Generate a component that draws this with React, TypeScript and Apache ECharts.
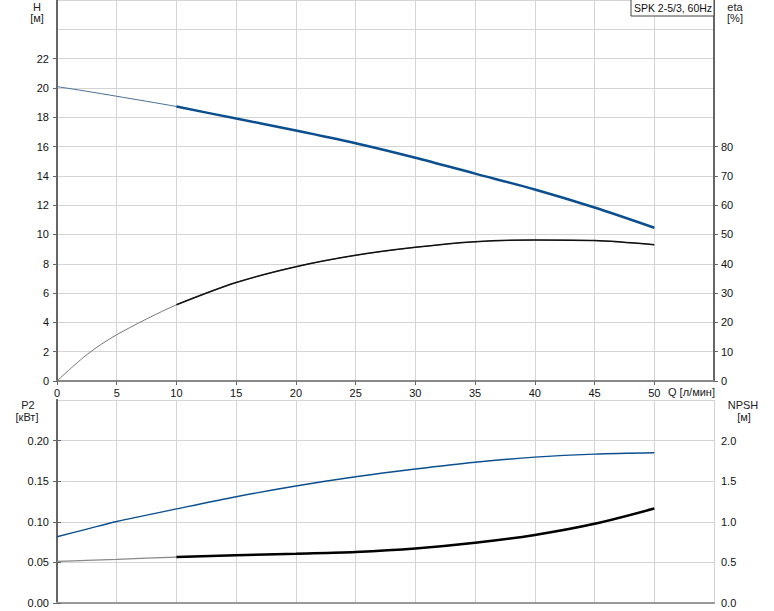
import React, { useEffect, useRef } from "react";
import * as echarts from "echarts";

const Q = [0, 2.5, 5, 10, 15, 20, 25, 30, 35, 40, 45, 50];
const H = [20.09, 19.77, 19.43, 18.73, 17.91, 17.1, 16.23, 15.24, 14.15, 13.07, 11.84, 10.46];
const ETA = [0, 9.0, 15.8, 26.0, 33.6, 39.0, 42.9, 45.6, 47.5, 48.1, 47.9, 46.5];
const P2 = [0.0816, 0.091, 0.1004, 0.1159, 0.1309, 0.1441, 0.1554, 0.165, 0.1734, 0.1796, 0.1834, 0.185];
const NPSH = [0.512, 0.525, 0.537, 0.566, 0.588, 0.608, 0.629, 0.671, 0.741, 0.838, 0.975, 1.163];

const X_TICKS = [0, 5, 10, 15, 20, 25, 30, 35, 40, 45, 50];
const H_TICKS = [0, 2, 4, 6, 8, 10, 12, 14, 16, 18, 20, 22];
const ETA_TICKS = [0, 10, 20, 30, 40, 50, 60, 70, 80];
const P2_TICKS = [0, 0.05, 0.1, 0.15, 0.2];
const NPSH_TICKS = [0, 0.5, 1, 1.5, 2];

const TITLE = "SPK 2-5/3, 60Hz";
const OP_START = 3; // index where operating range (thick line) begins

const FONT = "'Liberation Sans', Arial, sans-serif";
const BLUE = "#0b4f8f";

function pts(ys: number[], from: number, to: number) {
  const out: [number, number][] = [];
  for (let i = from; i <= to; i++) out.push([Q[i], ys[i]]);
  return out;
}

export default function App() {
  const ref = useRef<HTMLDivElement>(null);
  useEffect(() => {
    if (!ref.current) return;
    const chart = echarts.init(ref.current, null, { renderer: "svg" });
    const last = Q.length - 1;
    const lbl = { fontFamily: FONT, fontSize: 11, color: "#111" };
    const axLine = (c: string) => ({ show: true, lineStyle: { color: c, width: 2 } });
    const split = { show: true, lineStyle: { color: "#d4d4d4", width: 1 } };
    const line = (
      data: [number, number][],
      xi: number,
      yi: number,
      color: string,
      width: number,
      z = 5
    ) => ({
      type: "line",
      xAxisIndex: xi,
      yAxisIndex: yi,
      data,
      symbol: "none",
      smooth: 0.3,
      silent: true,
      lineStyle: { color, width },
      z,
    });
    const txt = (text: string, x: number, y: number, align = "center") => ({
      type: "text",
      x,
      y,
      style: { text, font: `11px ${FONT}`, fill: "#222", align, verticalAlign: "middle" },
    });
    chart.setOption({
      animation: false,
      grid: [
        { left: 57, right: 60, top: 0, height: 381 },
        { left: 57, right: 60, top: 400, height: 203 },
      ],
      xAxis: [
        {
          gridIndex: 0,
          type: "value",
          min: 0,
          max: 55,
          interval: 5,
          position: "bottom",
          axisLine: axLine("#888"),
          axisTick: { show: true, length: 4, customValues: X_TICKS, lineStyle: { color: "#666" } },
          axisLabel: { ...lbl, margin: 6, customValues: X_TICKS },
          splitLine: split,
        },
        {
          gridIndex: 1,
          type: "value",
          min: 0,
          max: 55,
          interval: 5,
          position: "bottom",
          axisLine: axLine("#bbb"),
          axisTick: { show: false },
          axisLabel: { show: false },
          splitLine: split,
        },
        {
          gridIndex: 1,
          type: "value",
          min: 0,
          max: 55,
          interval: 5,
          position: "top",
          axisLine: axLine("#999"),
          axisTick: { show: false },
          axisLabel: { show: false },
          splitLine: { show: false },
        },
      ],
      yAxis: [
        {
          gridIndex: 0,
          type: "value",
          min: 0,
          max: 26,
          interval: 2,
          position: "left",
          axisLine: axLine("#666"),
          axisTick: { show: true, length: 4, customValues: H_TICKS, lineStyle: { color: "#666" } },
          axisLabel: { ...lbl, margin: 8, customValues: H_TICKS },
          splitLine: { show: false },
        },
        {
          gridIndex: 0,
          type: "value",
          min: 0,
          max: 130,
          interval: 10,
          position: "right",
          axisLine: axLine("#666"),
          axisTick: { show: true, length: 4, customValues: ETA_TICKS, lineStyle: { color: "#666" } },
          axisLabel: { ...lbl, margin: 7, customValues: ETA_TICKS },
          splitLine: { show: false },
        },
        {
          gridIndex: 0,
          type: "value",
          min: 0,
          max: 26,
          interval: 2,
          position: "left",
          axisLine: { show: false },
          axisTick: { show: false },
          axisLabel: { show: false },
          splitLine: split,
        },
        {
          gridIndex: 1,
          type: "value",
          min: 0,
          max: 0.25,
          interval: 0.05,
          position: "left",
          axisLine: axLine("#666"),
          axisTick: { show: true, length: 4, customValues: P2_TICKS, lineStyle: { color: "#666" } },
          axisLabel: {
            ...lbl,
            margin: 8,
            customValues: P2_TICKS,
            formatter: (v: number) => v.toFixed(2),
          },
          splitLine: { show: false },
        },
        {
          gridIndex: 1,
          type: "value",
          min: 0,
          max: 2.5,
          interval: 0.5,
          position: "right",
          axisLine: axLine("#666"),
          axisTick: { show: true, length: 4, customValues: NPSH_TICKS, lineStyle: { color: "#666" } },
          axisLabel: {
            ...lbl,
            margin: 7,
            customValues: NPSH_TICKS,
            formatter: (v: number) => v.toFixed(1),
          },
          splitLine: { show: false },
        },
        {
          gridIndex: 1,
          type: "value",
          min: 0,
          max: 0.25,
          interval: 0.05,
          position: "left",
          axisLine: { show: false },
          axisTick: { show: false },
          axisLabel: { show: false },
          splitLine: split,
        },
      ],
      series: [
        line(pts(H, 0, last), 0, 0, "#4a6f96", 1, 4),
        line(pts(H, OP_START, last), 0, 0, BLUE, 2.5),
        line(pts(ETA, 0, last), 0, 1, "#777", 1, 4),
        line(pts(ETA, OP_START, last), 0, 1, "#111", 1.5),
        line(pts(P2, 0, last), 1, 3, BLUE, 1.4),
        line(pts(NPSH, 0, last), 1, 4, "#888", 1.2, 4),
        line(pts(NPSH, OP_START, last), 1, 4, "#000", 2.5),
      ],
      graphic: [
        {
          type: "rect",
          shape: { x: 631, y: -1, width: 83, height: 17 },
          style: { fill: "#fff", stroke: "#444", lineWidth: 1 },
          z: 10,
        },
        {
          type: "text",
          x: 673,
          y: 8,
          style: { text: TITLE, font: `10.5px ${FONT}`, fill: "#111", align: "center", verticalAlign: "middle" },
          z: 11,
        },
        txt("H", 37, 7),
        txt("[м]", 37, 18),
        txt("eta", 735, 7),
        txt("[%]", 735, 18),
        txt("P2", 28, 405),
        txt("[кВт]", 27, 417),
        txt("NPSH", 743, 405),
        txt("[м]", 744, 417),
        txt("Q [л/мин]", 668, 392, "left"),
      ],
    });
    return () => chart.dispose();
  }, []);
  return (
    <div
      ref={ref}
      style={{ position: "fixed", left: 0, top: 0, width: 774, height: 611, background: "#fff" }}
    />
  );
}
